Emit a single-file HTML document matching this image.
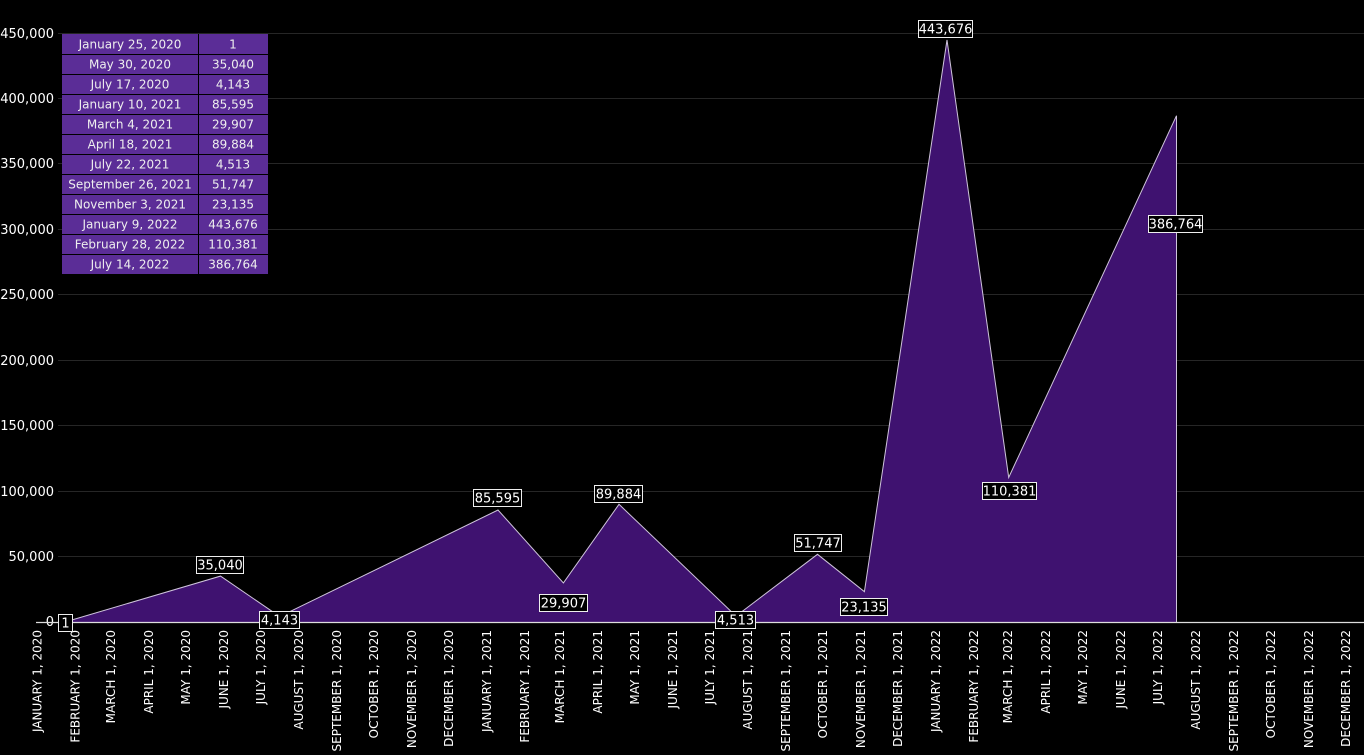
<!DOCTYPE html>
<html><head><meta charset="utf-8"><style>
html,body{margin:0;padding:0;background:#000;}
svg{display:block;font-family:"DejaVu Sans","Liberation Sans",sans-serif;}
</style></head><body>
<svg width="1364" height="755" viewBox="0 0 1364 755">
<g stroke="#262626" stroke-width="1">
<line x1="58" x2="1364" y1="33.5" y2="33.5"/><line x1="58" x2="1364" y1="98.5" y2="98.5"/>
<line x1="58" x2="1364" y1="163.5" y2="163.5"/><line x1="58" x2="1364" y1="229.5" y2="229.5"/>
<line x1="58" x2="1364" y1="294.5" y2="294.5"/><line x1="58" x2="1364" y1="360.5" y2="360.5"/>
<line x1="58" x2="1364" y1="425.5" y2="425.5"/><line x1="58" x2="1364" y1="491.5" y2="491.5"/>
<line x1="58" x2="1364" y1="556.5" y2="556.5"/>
</g>
<g fill="#fff" font-size="13" text-anchor="end">
<text x="54" y="38">450,000</text><text x="54" y="103">400,000</text><text x="54" y="168">350,000</text>
<text x="54" y="234">300,000</text><text x="54" y="299">250,000</text><text x="54" y="365">200,000</text>
<text x="54" y="430">150,000</text><text x="54" y="496">100,000</text><text x="54" y="561">50,000</text>
<text x="54" y="626">0</text>
</g>
<polygon points="65,622 220.5,576.1 279.7,616.6 498,510 563.4,582.9 619,504.3 736,616.1 817.5,554.3 864.4,591.7 947,40 1008.7,477.5 1176.5,115.7 1176.5,622" fill="#3f1270"/>
<polyline points="65,622 220.5,576.1 279.7,616.6 498,510 563.4,582.9 619,504.3 736,616.1 817.5,554.3 864.4,591.7 947,40 1008.7,477.5 1176.5,115.7 1176.5,622" fill="none" stroke="#cfc4dc" stroke-width="1"/>
<line x1="36" x2="1364" y1="622.5" y2="622.5" stroke="#ddd" stroke-width="1.2"/>
<g fill="#fff" font-size="12" text-anchor="end">
<text transform="translate(41.5,630) rotate(-90)">JANUARY 1, 2020</text>
<text transform="translate(79.5,630) rotate(-90)">FEBRUARY 1, 2020</text>
<text transform="translate(115,630) rotate(-90)">MARCH 1, 2020</text>
<text transform="translate(153,630) rotate(-90)">APRIL 1, 2020</text>
<text transform="translate(190,630) rotate(-90)">MAY 1, 2020</text>
<text transform="translate(228,630) rotate(-90)">JUNE 1, 2020</text>
<text transform="translate(265,630) rotate(-90)">JULY 1, 2020</text>
<text transform="translate(303,630) rotate(-90)">AUGUST 1, 2020</text>
<text transform="translate(341,630) rotate(-90)">SEPTEMBER 1, 2020</text>
<text transform="translate(378,630) rotate(-90)">OCTOBER 1, 2020</text>
<text transform="translate(416,630) rotate(-90)">NOVEMBER 1, 2020</text>
<text transform="translate(453,630) rotate(-90)">DECEMBER 1, 2020</text>
<text transform="translate(491,630) rotate(-90)">JANUARY 1, 2021</text>
<text transform="translate(529,630) rotate(-90)">FEBRUARY 1, 2021</text>
<text transform="translate(564,630) rotate(-90)">MARCH 1, 2021</text>
<text transform="translate(602,630) rotate(-90)">APRIL 1, 2021</text>
<text transform="translate(639,630) rotate(-90)">MAY 1, 2021</text>
<text transform="translate(677,630) rotate(-90)">JUNE 1, 2021</text>
<text transform="translate(714,630) rotate(-90)">JULY 1, 2021</text>
<text transform="translate(752,630) rotate(-90)">AUGUST 1, 2021</text>
<text transform="translate(790,630) rotate(-90)">SEPTEMBER 1, 2021</text>
<text transform="translate(827,630) rotate(-90)">OCTOBER 1, 2021</text>
<text transform="translate(865,630) rotate(-90)">NOVEMBER 1, 2021</text>
<text transform="translate(902,630) rotate(-90)">DECEMBER 1, 2021</text>
<text transform="translate(940,630) rotate(-90)">JANUARY 1, 2022</text>
<text transform="translate(978,630) rotate(-90)">FEBRUARY 1, 2022</text>
<text transform="translate(1012,630) rotate(-90)">MARCH 1, 2022</text>
<text transform="translate(1050,630) rotate(-90)">APRIL 1, 2022</text>
<text transform="translate(1087,630) rotate(-90)">MAY 1, 2022</text>
<text transform="translate(1125,630) rotate(-90)">JUNE 1, 2022</text>
<text transform="translate(1162,630) rotate(-90)">JULY 1, 2022</text>
<text transform="translate(1200,630) rotate(-90)">AUGUST 1, 2022</text>
<text transform="translate(1238,630) rotate(-90)">SEPTEMBER 1, 2022</text>
<text transform="translate(1275,630) rotate(-90)">OCTOBER 1, 2022</text>
<text transform="translate(1313,630) rotate(-90)">NOVEMBER 1, 2022</text>
<text transform="translate(1350,630) rotate(-90)">DECEMBER 1, 2022</text>
</g>
<g font-size="13" text-anchor="middle">
<g stroke="#eee" stroke-width="1" fill="#000">
<rect x="58.5" y="614.5" width="14" height="17"/>
<rect x="196.5" y="556.5" width="47" height="17"/>
<rect x="259.5" y="611.5" width="40" height="17"/>
<rect x="473.5" y="489.5" width="48" height="17"/>
<rect x="539.5" y="594.5" width="48" height="17"/>
<rect x="594.5" y="485.5" width="48" height="17"/>
<rect x="715.5" y="611.5" width="40" height="17"/>
<rect x="794.5" y="534.5" width="47" height="17"/>
<rect x="840.5" y="598.5" width="47" height="17"/>
<rect x="918.5" y="20.5" width="54" height="17"/>
<rect x="982.5" y="482.5" width="54" height="17"/>
<rect x="1148.5" y="215.5" width="54" height="17"/>
</g>
<g fill="#fff">
<text x="65.5" y="627.5">1</text>
<text x="220" y="569.5">35,040</text>
<text x="279.5" y="624.5">4,143</text>
<text x="497.5" y="502.5">85,595</text>
<text x="563.5" y="607.5">29,907</text>
<text x="618.5" y="498.5">89,884</text>
<text x="735.5" y="624.5">4,513</text>
<text x="818" y="547.5">51,747</text>
<text x="864" y="611.5">23,135</text>
<text x="945.5" y="33.5">443,676</text>
<text x="1009.5" y="495.5">110,381</text>
<text x="1175.5" y="228.5">386,764</text>
</g>
</g>
<g font-size="12" text-anchor="middle">
<rect x="62" y="34" width="206" height="240" fill="#5b2d97"/>
<g stroke="#000" stroke-width="1">
<line x1="198.5" x2="198.5" y1="34" y2="274"/>
<line x1="62" x2="268" y1="54.5" y2="54.5"/><line x1="62" x2="268" y1="74.5" y2="74.5"/>
<line x1="62" x2="268" y1="94.5" y2="94.5"/><line x1="62" x2="268" y1="114.5" y2="114.5"/>
<line x1="62" x2="268" y1="134.5" y2="134.5"/><line x1="62" x2="268" y1="154.5" y2="154.5"/>
<line x1="62" x2="268" y1="174.5" y2="174.5"/><line x1="62" x2="268" y1="194.5" y2="194.5"/>
<line x1="62" x2="268" y1="214.5" y2="214.5"/><line x1="62" x2="268" y1="234.5" y2="234.5"/>
<line x1="62" x2="268" y1="254.5" y2="254.5"/>
</g>
<g fill="#eee">
<text x="130" y="48.5">January 25, 2020</text><text x="233" y="48.5">1</text>
<text x="130" y="68.5">May 30, 2020</text><text x="233" y="68.5">35,040</text>
<text x="130" y="88.5">July 17, 2020</text><text x="233" y="88.5">4,143</text>
<text x="130" y="108.5">January 10, 2021</text><text x="233" y="108.5">85,595</text>
<text x="130" y="128.5">March 4, 2021</text><text x="233" y="128.5">29,907</text>
<text x="130" y="148.5">April 18, 2021</text><text x="233" y="148.5">89,884</text>
<text x="130" y="168.5">July 22, 2021</text><text x="233" y="168.5">4,513</text>
<text x="130" y="188.5">September 26, 2021</text><text x="233" y="188.5">51,747</text>
<text x="130" y="208.5">November 3, 2021</text><text x="233" y="208.5">23,135</text>
<text x="130" y="228.5">January 9, 2022</text><text x="233" y="228.5">443,676</text>
<text x="130" y="248.5">February 28, 2022</text><text x="233" y="248.5">110,381</text>
<text x="130" y="268.5">July 14, 2022</text><text x="233" y="268.5">386,764</text>
</g>
</g>
</svg>
</body></html>
